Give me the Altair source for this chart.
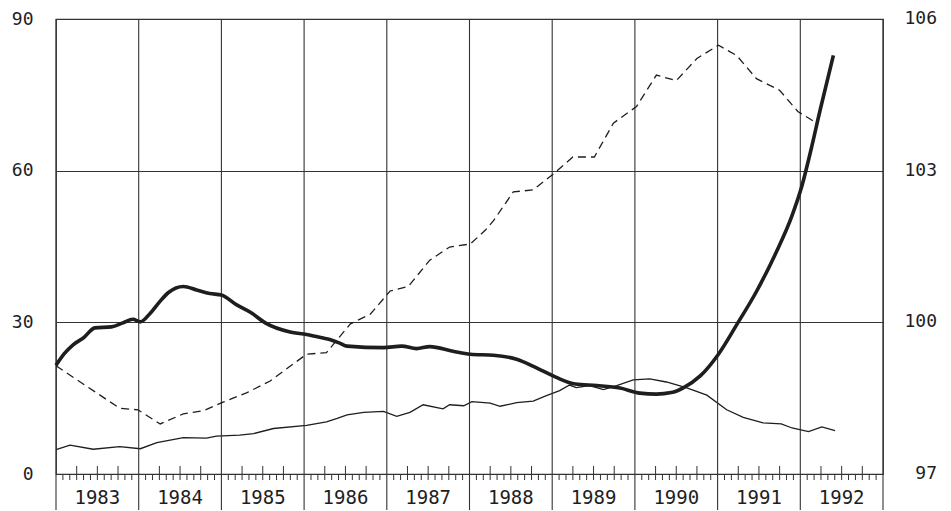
import altair as alt
import pandas as pd

# ---- data (decimal years, left-axis units) ----
thick_x = [1983.00, 1983.10, 1983.21, 1983.33, 1983.47, 1983.67, 1983.81, 1983.93, 1984.02, 1984.14,
           1984.25, 1984.36, 1984.54, 1984.70, 1984.86, 1985.00, 1985.18, 1985.35, 1985.53, 1985.83,
           1986.03, 1986.23, 1986.31, 1986.43, 1986.52, 1986.96, 1987.18, 1987.36, 1987.52, 1987.80,
           1988.01, 1988.29, 1988.57, 1988.81, 1989.05, 1989.28, 1989.54, 1989.82, 1990.06, 1990.26,
           1990.44, 1990.59, 1990.79, 1991.01, 1991.23, 1991.47, 1991.71, 1991.90, 1992.02, 1992.12,
           1992.24, 1992.40]
thick_y = [21.5, 23.8, 25.6, 26.9, 28.9, 29.1, 29.9, 30.6, 30.1, 31.8,
           34.0, 35.9, 37.1, 36.4, 35.7, 35.4, 33.5, 32.0, 29.9, 28.1,
           27.6, 26.9, 26.6, 25.9, 25.3, 25.0, 25.3, 24.8, 25.2, 24.3,
           23.7, 23.5, 22.7, 21.0, 19.1, 17.8, 17.5, 17.0, 16.0, 15.8,
           16.1, 17.1, 19.4, 23.7, 29.5, 36.1, 43.9, 51.1, 57.0, 63.5,
           72.0, 82.8]

thin_x = [1983.00, 1983.17, 1983.45, 1983.77, 1984.02, 1984.22, 1984.54, 1984.82, 1984.94, 1985.22,
          1985.39, 1985.63, 1986.03, 1986.27, 1986.40, 1986.52, 1986.72, 1986.96, 1987.12, 1987.28,
          1987.44, 1987.68, 1987.76, 1987.93, 1988.03, 1988.25, 1988.37, 1988.57, 1988.77, 1988.93,
          1989.09, 1989.21, 1989.29, 1989.45, 1989.62, 1989.78, 1989.98, 1990.18, 1990.38, 1990.62,
          1990.87, 1991.11, 1991.31, 1991.55, 1991.77, 1991.90, 1992.10, 1992.26, 1992.42]
thin_y = [4.8, 5.7, 4.9, 5.4, 5.0, 6.2, 7.2, 7.1, 7.5, 7.7,
          8.0, 9.0, 9.6, 10.3, 11.0, 11.7, 12.2, 12.4, 11.4, 12.2,
          13.7, 12.9, 13.7, 13.5, 14.3, 14.0, 13.4, 14.1, 14.4, 15.5,
          16.5, 17.6, 17.1, 17.5, 16.7, 17.5, 18.6, 18.8, 18.2, 17.1,
          15.6, 12.7, 11.2, 10.1, 9.9, 9.1, 8.4, 9.3, 8.6]

dash_x = [1983.00, 1983.77, 1983.99, 1984.26, 1984.54, 1984.78, 1985.02, 1985.31, 1985.59, 1986.03,
          1986.27, 1986.56, 1986.80, 1987.04, 1987.26, 1987.52, 1987.76, 1988.01, 1988.19, 1988.29,
          1988.53, 1988.77, 1989.01, 1989.25, 1989.51, 1989.74, 1990.02, 1990.26, 1990.50, 1990.75,
          1991.01, 1991.23, 1991.47, 1991.75, 1991.97, 1992.20]
dash_y = [21.4, 13.0, 12.7, 9.9, 11.9, 12.5, 14.2, 16.1, 18.4, 23.7,
          24.0, 29.7, 31.6, 36.2, 37.1, 42.3, 44.9, 45.5, 48.2, 50.1,
          55.8, 56.2, 59.3, 62.7, 62.7, 69.4, 72.7, 78.9, 77.8, 82.2,
          84.8, 82.8, 78.2, 75.9, 71.7, 69.4]

years = list(range(1983, 1993))
year_labels = [str(y) for y in years]
left_ticks = [0, 30, 60, 90]
right_ticks = [97, 100, 103, 106]

W, H = 827, 455
FONT = "DejaVu Sans Mono"
FS = 18
INK = "#1e1e1e"
GRID = "#333333"

xs = alt.Scale(domain=[1983, 1993], nice=False, zero=False)
ys = alt.Scale(domain=[0, 90], nice=False, zero=True)


def line_df(x, y):
    return pd.DataFrame({"x": x, "y": y})


X = alt.X("x:Q", scale=xs, axis=None)
Y_left = alt.Y("y:Q", scale=ys, title=None,
               axis=alt.Axis(values=left_ticks, grid=True, gridColor=GRID, gridWidth=1.1,
                             ticks=False, domain=False, labelFont=FONT, labelFontSize=FS,
                             labelColor=INK, labelPadding=23, title=None))
Y = alt.Y("y:Q", scale=ys, title=None)

thin = alt.Chart(line_df(thin_x, thin_y)).mark_line(color=INK, strokeWidth=1.3).encode(x=X, y=Y_left)
dashed = alt.Chart(line_df(dash_x, dash_y)).mark_line(
    color=INK, strokeWidth=1.3, strokeDash=[8, 5]).encode(x=X, y=Y)
thick = alt.Chart(line_df(thick_x, thick_y)).mark_line(
    color=INK, strokeWidth=3.6, interpolate="monotone").encode(x=X, y=Y)

# year separators, extending below the axis
bounds = pd.DataFrame({"x": list(range(1983, 1994))})
year_lines = alt.Chart(bounds).mark_rule(color=GRID, strokeWidth=1.1).encode(
    x=X, y=alt.value(0), y2=alt.value(H + 40))

# month ticks along the bottom
months = pd.DataFrame({"x": [y + m / 12 for y in years for m in range(1, 12)],
                       "q": [1 if m % 3 == 0 else 0 for y in years for m in range(1, 12)]})
small_ticks = alt.Chart(months).transform_filter("datum.q == 0").mark_rule(
    color=GRID, strokeWidth=1).encode(x=X, y=alt.value(H), y2=alt.value(H + 6))
big_ticks = alt.Chart(months).transform_filter("datum.q == 1").mark_rule(
    color=GRID, strokeWidth=1).encode(x=X, y=alt.value(H - 8), y2=alt.value(H + 6))

labels = alt.Chart(pd.DataFrame({"x": [y + 0.5 for y in years], "t": year_labels})).mark_text(
    font=FONT, fontSize=19, color=INK, baseline="middle", align="center").encode(
    x=X, y=alt.value(H + 24), text="t:N")

# right-hand scale (97..106 corresponds to 0..90 on the left)
right_df = pd.DataFrame({"y": [(r - 97) * 10 for r in right_ticks], "t": [str(r) for r in right_ticks]})
right_labels = alt.Chart(right_df).mark_text(
    font=FONT, fontSize=FS, color=INK, baseline="middle", align="right").encode(
    x=alt.value(W + 54), y=Y, text="t:N")

chart = alt.layer(thin, year_lines, small_ticks, big_ticks, labels, right_labels, dashed, thick).properties(
    width=W, height=H,
    autosize=alt.AutoSizeParams(type="none"),
    padding={"left": 48, "top": 11, "right": 56, "bottom": 36},
    background="white",
).configure_view(stroke=GRID, strokeWidth=1.2)

chart.save("out.html", embed_options={"renderer": "svg", "actions": False})
